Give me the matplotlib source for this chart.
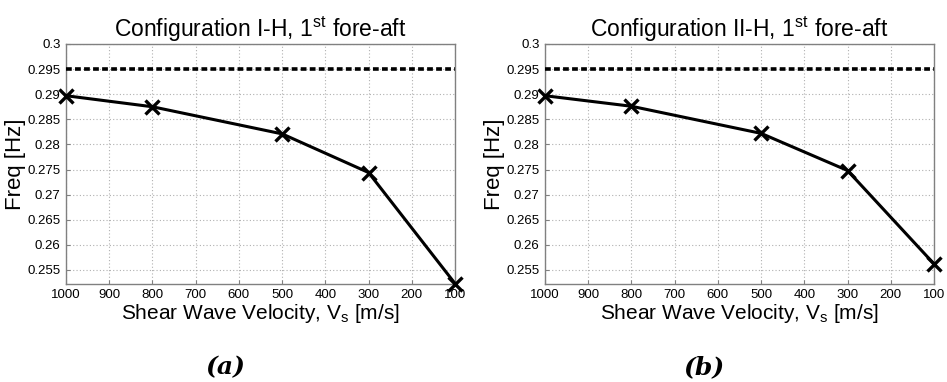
import matplotlib
matplotlib.use("Agg")
import matplotlib.pyplot as plt
import numpy as np

plt.rcParams['font.family'] = ['Liberation Sans', 'DejaVu Sans']
plt.rcParams['mathtext.fontset'] = 'custom'
plt.rcParams['mathtext.rm'] = 'Liberation Sans'
plt.rcParams['mathtext.it'] = 'Liberation Sans:italic'
plt.rcParams['mathtext.bf'] = 'Liberation Sans:bold'

vs = [1000, 800, 500, 300, 100]
freq_a = [0.2897, 0.2875, 0.2821, 0.2744, 0.2523]
freq_b = [0.2897, 0.2876, 0.2822, 0.2748, 0.2562]
ref_freq = 0.295
titles = [r'Configuration I-H, 1$^{\mathrm{st}}$ fore-aft',
          r'Configuration II-H, 1$^{\mathrm{st}}$ fore-aft']
captions = ['(a)', '(b)']
xticks = [1000, 900, 800, 700, 600, 500, 400, 300, 200, 100]
yticks = [0.255, 0.26, 0.265, 0.27, 0.275, 0.28, 0.285, 0.29, 0.295, 0.3]

fig = plt.figure(figsize=(9.47, 3.82), dpi=100)
lefts = [66 / 947, 545 / 947]
for i, (data, left) in enumerate(zip([freq_a, freq_b], lefts)):
    ax = fig.add_axes([left, 1 - 283.5 / 382, 389 / 947, 239.5 / 382])
    ax.axhline(ref_freq, color='black', lw=2.6, linestyle=(0, (1.6, 0.9)), zorder=3)
    ax.plot(vs, data, color='black', lw=2.2, marker='x', markersize=10,
            markeredgewidth=2.4, clip_on=False, zorder=4)
    ax.set_xlim(1000, 100)
    ax.set_ylim(0.2523, 0.3)
    ax.set_xticks(xticks)
    ax.set_xticklabels([str(t) for t in xticks])
    ax.set_yticks(yticks)
    ax.set_yticklabels(['%g' % t for t in yticks])
    ax.grid(True, color='#b0b0b0', linestyle=(0, (1, 2)), lw=0.8)
    ax.tick_params(direction='in', length=3, labelsize=9.5, color='#808080', pad=4)
    for s in ax.spines.values():
        s.set_color('#808080')
        s.set_linewidth(1.0)
    ax.set_title(titles[i], fontsize=16.5, pad=4)
    ax.set_xlabel(r'Shear Wave Velocity, V$_{\mathrm{s}}$ [m/s]', fontsize=15, labelpad=1)
    ax.set_ylabel('Freq [Hz]', fontsize=16, labelpad=1)
    fig.text(left + 159 / 947, 1 - 367 / 382, captions[i], ha='center', va='center',
             fontsize=18, family='DejaVu Serif', style='italic', weight='bold')

fig.savefig('out.png', dpi=100)
